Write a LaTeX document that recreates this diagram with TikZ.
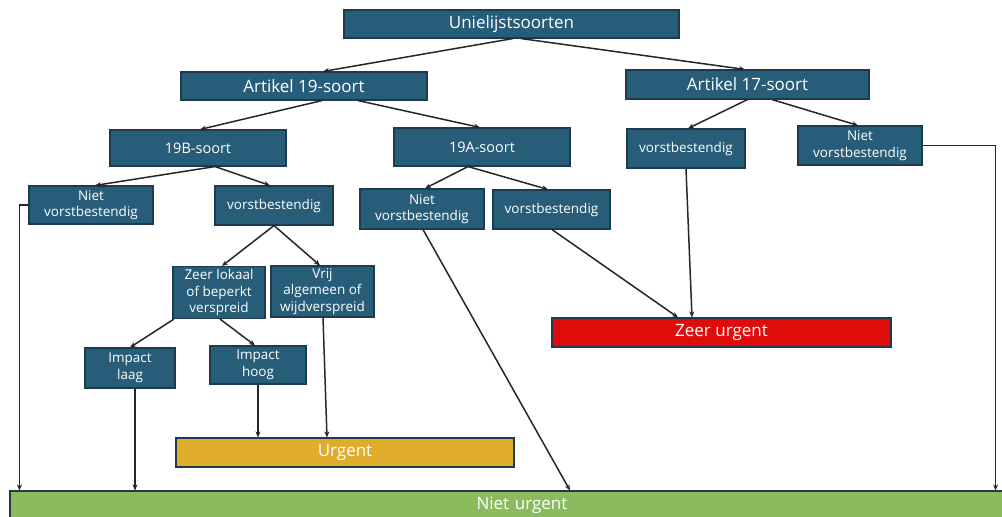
\documentclass[tikz,border=0pt]{standalone}
\usepackage{fontspec}
\setmainfont{Open Sans}
\usetikzlibrary{arrows.meta}
\definecolor{boxblue}{HTML}{285D79}
\definecolor{boxline}{HTML}{1E3B4E}
\definecolor{urgorange}{HTML}{E0AC2B}
\definecolor{urgred}{HTML}{E00B0B}
\definecolor{urggreen}{HTML}{8BBB5C}
\tikzset{
  box/.style={draw=boxline, line width=1.1pt, fill=boxblue, text=white, inner sep=0pt, align=center},
  bigtxt/.style={font=\fontsize{17}{20}\selectfont},
  midtxt/.style={font=\fontsize{14.5}{17}\selectfont},
  smalltxt/.style={font=\fontsize{13.5}{16.5}\selectfont},
  res/.style={draw=boxline, line width=1.1pt, text=white, inner sep=0pt, align=center, font=\fontsize{17}{20}\selectfont},
  arr/.style={draw=black!85, line width=1.5pt, -{Stealth[length=6pt,width=5pt]}},
}
\begin{document}
\begin{tikzpicture}[x=1pt,y=-1pt]
\useasboundingbox (0,0) rectangle (1002,517);
\node[box,bigtxt,minimum width=335pt,minimum height=28pt] (unie) at (511.5,24) {Unielijstsoorten};
\node[box,bigtxt,minimum width=246pt,minimum height=28pt] (a19) at (304,86) {Artikel 19-soort};
\node[box,bigtxt,minimum width=243pt,minimum height=29pt] (a17) at (747.5,84.5) {Artikel 17-soort};
\node[box,midtxt,minimum width=176pt,minimum height=36pt] (b19) at (198,148) {19B-soort};
\node[box,midtxt,minimum width=176pt,minimum height=38pt] (a19s) at (482,147) {19A-soort};
\node[box,smalltxt,minimum width=118pt,minimum height=39pt] (v17) at (686,148.5) {vorstbestendig};
\node[box,smalltxt,minimum width=124pt,minimum height=39pt] (n17) at (860,145.5) {Niet\\vorstbestendig};
\node[box,smalltxt,minimum width=124pt,minimum height=38pt] (nB) at (91,205) {Niet\\vorstbestendig};
\node[box,smalltxt,minimum width=118pt,minimum height=39pt] (vB) at (274,205.5) {vorstbestendig};
\node[box,smalltxt,minimum width=124pt,minimum height=40pt] (nA) at (422,209) {Niet\\vorstbestendig};
\node[box,smalltxt,minimum width=117pt,minimum height=39pt] (vA) at (551.5,209.5) {vorstbestendig};
\node[box,smalltxt,minimum width=92pt,minimum height=52pt] (zl) at (219,292.5) {Zeer lokaal\\of beperkt\\verspreid};
\node[box,smalltxt,minimum width=103pt,minimum height=51pt] (vr) at (322.5,291.5) {Vrij\\algemeen of\\wijdverspreid};
\node[box,smalltxt,minimum width=90pt,minimum height=40pt] (il) at (130,368) {Impact\\laag};
\node[box,smalltxt,minimum width=96pt,minimum height=38pt] (ih) at (258,365) {Impact\\hoog};
\node[res,fill=urgorange,minimum width=338pt,minimum height=29pt] (urg) at (345,452.5) {Urgent};
\node[res,fill=urgred,minimum width=339pt,minimum height=29pt] (zu) at (721.5,332.5) {Zeer urgent};
\node[res,fill=urggreen,minimum width=1000pt,minimum height=28pt,text width=1000pt] (nu) at (510,505) {\hspace*{24pt}Niet urgent};
% connectors
\draw[arr] ([xshift=1.5pt]unie.south) -- ([xshift=19pt]a19.north);
\draw[arr] ([xshift=9.5pt]unie.south) -- ([xshift=-2.5pt]a17.north);
\draw[arr] ([xshift=18pt]a19.south) -- ([xshift=2pt]b19.north);
\draw[arr] ([xshift=54pt]a19.south) -- ([xshift=-2pt]a19s.north);
\draw[arr] (a17.south) -- ([xshift=2pt]v17.north);
\draw[arr] ([xshift=24.5pt]a17.south) -- ([xshift=-2pt]n17.north);
\draw[arr] ([xshift=17pt]b19.south) -- ([xshift=4pt]nB.north);
\draw[arr] ([xshift=17pt]b19.south) -- ([xshift=-4pt]vB.north);
\draw[arr] ([xshift=-14pt]a19s.south) -- ([xshift=3pt]nA.north);
\draw[arr] ([xshift=-14pt]a19s.south) -- ([xshift=-3.5pt]vA.north);
\draw[arr] (vB.south) -- ([xshift=3pt]zl.north);
\draw[arr] (vB.south) -- ([xshift=-2.5pt]vr.north);
\draw[arr] ([xshift=-45pt]zl.south) -- (il.north);
\draw[arr] ([xshift=1pt]zl.south) -- ([xshift=-3pt]ih.north);
\draw[arr] ([xshift=5pt]il.south) -- ([xshift=5pt]il.south |- nu.north);
\draw[arr] (ih.south) -- (ih.south |- urg.north);
\draw[arr] ([xshift=0.5pt]vr.south) -- ([xshift=-18pt]urg.north);
\coordinate (nBcorner) at ([xshift=-9pt]nB.west);
\draw[arr] (nB.west) -- (nBcorner) -- (nBcorner |- nu.north);
\draw[arr] ([xshift=1pt]nA.south) -- ([xshift=60pt]nu.north);
\draw[arr] ([xshift=0.5pt]vA.south) -- ([xshift=-43.5pt]zu.north);
\draw[arr] (v17.south) -- ([xshift=-29.5pt]zu.north);
\coordinate (n17corner) at ([xshift=73pt]n17.east);
\draw[arr] (n17.east) -- (n17corner) -- (n17corner |- nu.north);
\end{tikzpicture}
\end{document}
